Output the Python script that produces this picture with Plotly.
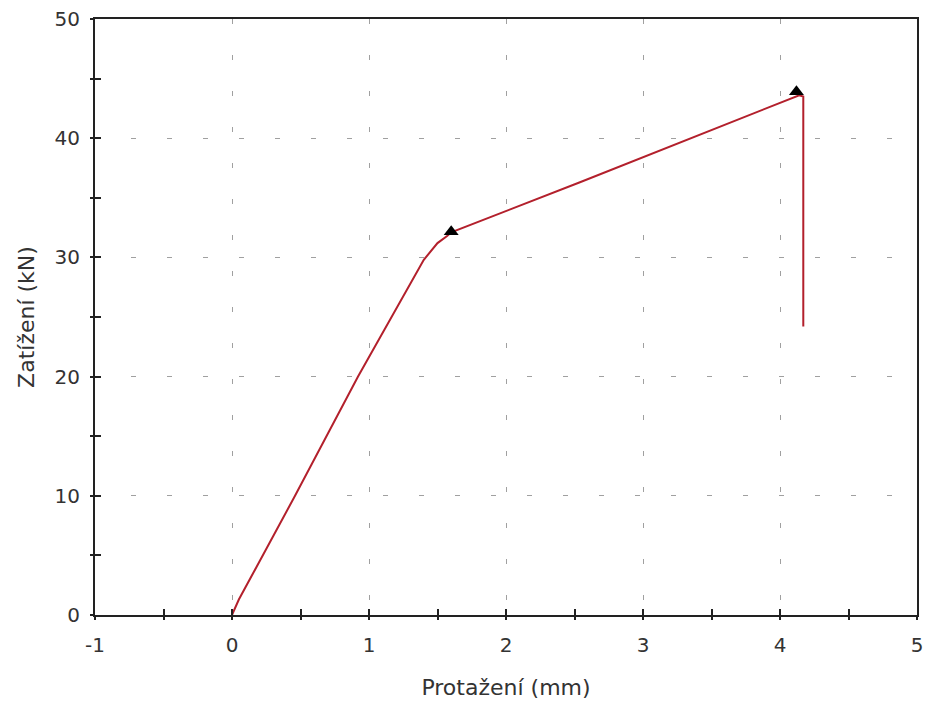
import plotly.graph_objects as go

# Load-elongation curve of the tensile test
elongation_mm = [0.0, 0.05, 0.46, 0.92, 1.40, 1.50, 1.57, 1.60, 2.54, 4.14, 4.17, 4.17]
load_kN = [0.0, 1.3, 10.0, 20.0, 29.8, 31.2, 31.8, 32.1, 36.3, 43.6, 43.5, 24.2]

# Marked points: yield and maximum load
marker_x = [1.60, 4.12]
marker_y = [32.15, 43.9]

x_ticks = [-1, 0, 1, 2, 3, 4, 5]
y_ticks = [0, 10, 20, 30, 40, 50]

FONT = "DejaVu Sans"
AXIS = "#222222"
TEXT = "#333333"

fig = go.Figure()
fig.add_trace(go.Scatter(
    x=elongation_mm, y=load_kN, mode="lines",
    line=dict(color="#b3202c", width=2),
    showlegend=False, hoverinfo="x+y",
))
fig.add_trace(go.Scatter(
    x=marker_x, y=marker_y, mode="markers",
    marker=dict(symbol="triangle-up", size=13, color="black"),
    showlegend=False,
))
# empty trace that anchors the overlay axes carrying the inner tick halves
fig.add_trace(go.Scatter(
    x=[None], y=[None], xaxis="x2", yaxis="y2", mode="lines",
    showlegend=False, hoverinfo="skip",
))

grid = dict(showgrid=True, gridcolor="#a0a0a0", gridwidth=1, griddash="5px,31px")
tick_style = dict(tickwidth=2, tickcolor=AXIS)

fig.update_layout(
    width=927, height=709,
    margin=dict(l=95, r=10, t=19, b=94),
    paper_bgcolor="white", plot_bgcolor="white",
    font=dict(family=FONT, color=TEXT),
    xaxis=dict(
        range=[-1, 5], tickvals=x_ticks, ticktext=[str(v) for v in x_ticks],
        ticks="outside", ticklen=3, **tick_style,
        minor=dict(dtick=0.5, ticks="outside", ticklen=3, showgrid=False, **tick_style),
        ticklabelstandoff=8,
        showline=True, linecolor=AXIS, linewidth=2, mirror=True, automargin=False,
        zeroline=False, tickfont=dict(size=20, family=FONT, color=TEXT),
        title=dict(text="Protažení (mm)", font=dict(size=22, family=FONT, color=TEXT), standoff=24),
        **grid,
    ),
    yaxis=dict(
        range=[0, 50], tickvals=y_ticks, ticktext=[str(v) for v in y_ticks],
        ticks="outside", ticklen=3, **tick_style,
        minor=dict(dtick=5, ticks="outside", ticklen=3, showgrid=False, **tick_style),
        ticklabelstandoff=6,
        showline=True, linecolor=AXIS, linewidth=2, mirror=True, automargin=False,
        zeroline=False, tickfont=dict(size=20, family=FONT, color=TEXT),
        title=dict(text="Zatížení (kN)", font=dict(size=22, family=FONT, color=TEXT), standoff=14),
        **grid,
    ),
    xaxis2=dict(
        range=[-1, 5], overlaying="x", side="bottom", anchor="y",
        tickvals=x_ticks, ticks="inside", ticklen=6, **tick_style,
        minor=dict(dtick=0.5, ticks="inside", ticklen=6, **tick_style),
        showticklabels=False, showgrid=False, showline=False, zeroline=False,
    ),
    yaxis2=dict(
        range=[0, 50], overlaying="y", side="left", anchor="x",
        tickvals=y_ticks, ticks="inside", ticklen=6, **tick_style,
        minor=dict(dtick=5, ticks="inside", ticklen=6, **tick_style),
        showticklabels=False, showgrid=False, showline=False, zeroline=False,
    ),
)

fig.write_html("out.html")
